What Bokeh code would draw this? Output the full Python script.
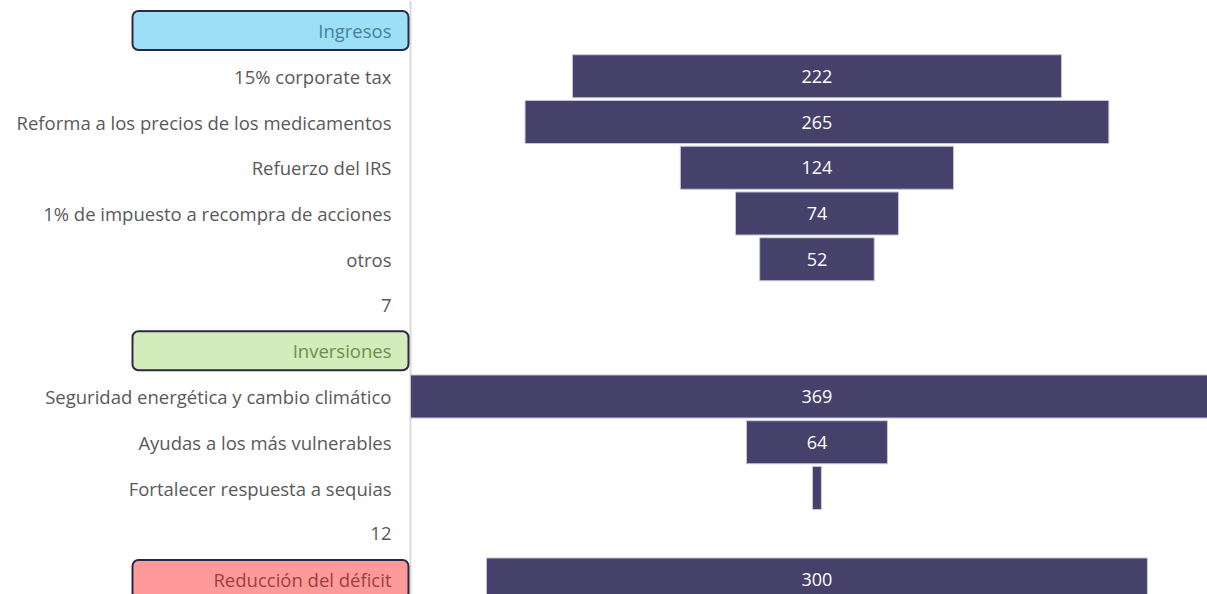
from bokeh.plotting import figure
from bokeh.models import Range1d, ColumnDataSource
from bokeh.core.properties import value
from bokeh.embed import file_html
from bokeh.resources import INLINE

# ---- data ----
row_labels = ["Ingresos", "15% corporate tax", "Reforma a los precios de los medicamentos",
              "Refuerzo del IRS", "1% de impuesto a recompra de acciones", "otros", "7",
              "Inversiones", "Seguridad energética y cambio climático",
              "Ayudas a los más vulnerables", "Fortalecer respuesta a sequias", "12",
              "Reducción del déficit"]
bar_values = [None, 222, 265, 124, 74, 52, None, None, 369, 64, 4, None, 300]
header_names = ["Ingresos", "Inversiones", "Reducción del déficit"]
header_fill = ["#9ddff7", "#d4ebbb", "#ff9a9a"]
header_text = ["#4a7f99", "#6b8f4e", "#a03d3d"]

# ---- layout constants (pixels) ----
W, H = 1207, 594
AXIS_PX = 410
PX_PER_UNIT = 2.203
ROW_PX = 45.75
FIRST_ROW_PX = 30
TEXT_RIGHT_PX = 391
BOX_LEFT_PX, BOX_RIGHT_PX = 132, 408
BOX_H_PX = 39

axis_x = -184.5
x_start = axis_x - AXIS_PX / PX_PER_UNIT
x_end = axis_x + (W - AXIS_PX) / PX_PER_UNIT
y_top = -FIRST_ROW_PX / ROW_PX
y_bottom = y_top + H / ROW_PX

def px_to_x(px):
    return axis_x + (px - AXIS_PX) / PX_PER_UNIT

p = figure(width=W, height=H, output_backend="svg", toolbar_location=None,
           x_range=Range1d(x_start, x_end), y_range=Range1d(y_bottom, y_top),
           min_border=0, outline_line_color=None,
           x_axis_location=None, y_axis_location=None)
p.grid.visible = False
p.background_fill_color = "white"
p.border_fill_color = "white"

rows = list(range(len(row_labels)))

# axis line
p.segment(x0=[axis_x], y0=[y_top], x1=[axis_x], y1=[y_bottom],
          line_color="#d9d9d9", line_width=2)

# bars
bar_rows = [r for r, v in zip(rows, bar_values) if v is not None]
bar_vals = [v for v in bar_values if v is not None]
src = ColumnDataSource(dict(y=bar_rows, left=[-v / 2 for v in bar_vals],
                            right=[v / 2 for v in bar_vals],
                            txt=[str(v) if v >= 10 else "" for v in bar_vals],
                            x=[0] * len(bar_vals)))
p.hbar(y="y", left="left", right="right", height=0.94, source=src,
       fill_color="#46416a", line_color="#c7c4d8", line_width=1)
p.text(x="x", y="y", text="txt", source=src, text_align="center",
       text_baseline="middle", text_color="white", text_font_size="18px",
       text_font=value("Open Sans"))

# header boxes
hdr_rows = [row_labels.index(n) for n in header_names]
box_h = BOX_H_PX / ROW_PX
hsrc = ColumnDataSource(dict(y=hdr_rows, fill=header_fill, tc=header_text,
                             txt=header_names,
                             x=[px_to_x(TEXT_RIGHT_PX)] * len(hdr_rows)))
quad_kw = dict(left=px_to_x(BOX_LEFT_PX), right=px_to_x(BOX_RIGHT_PX),
               top=[r - box_h / 2 for r in hdr_rows],
               bottom=[r + box_h / 2 for r in hdr_rows],
               fill_color=header_fill, line_color="#2b2845", line_width=2)
try:
    p.quad(border_radius=6, **quad_kw)
except Exception:
    p.quad(**quad_kw)

# row labels (left of the axis)
lab_rows = [r for r in rows if row_labels[r] not in header_names]
lsrc = ColumnDataSource(dict(y=lab_rows, txt=[row_labels[r] for r in lab_rows],
                             x=[px_to_x(TEXT_RIGHT_PX)] * len(lab_rows)))
p.text(x="x", y="y", text="txt", source=lsrc, text_align="right",
       text_baseline="middle", text_color="#595959", text_font_size="18.5px",
       text_font=value("Open Sans"))
p.text(x="x", y="y", text="txt", source=hsrc, text_align="right",
       text_baseline="middle", text_color="tc", text_font_size="18.5px",
       text_font=value("Open Sans"))

open("out.html", "w").write(file_html(p, INLINE))
